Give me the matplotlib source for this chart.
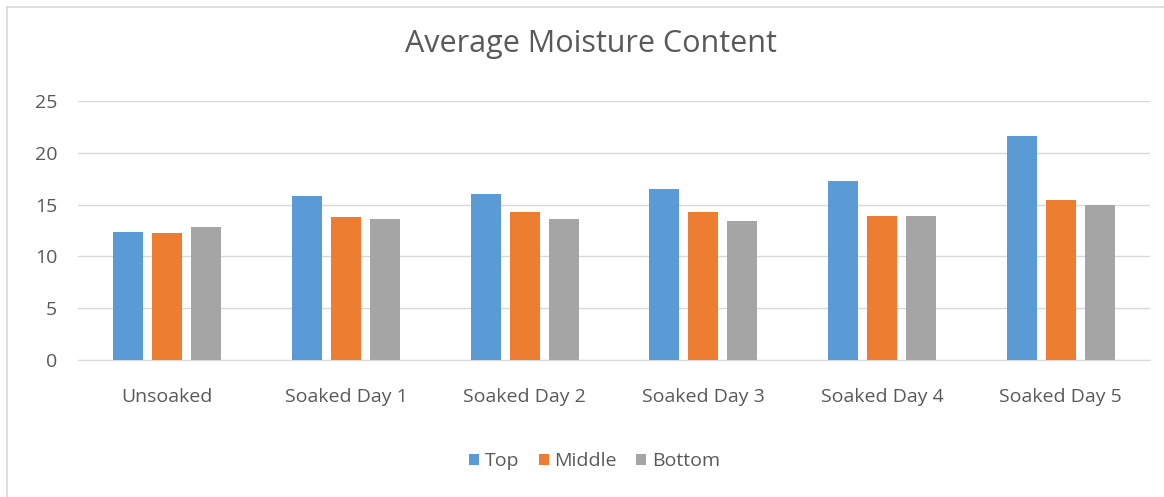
import matplotlib
matplotlib.use("Agg")
import matplotlib.pyplot as plt
import numpy as np

plt.rcParams['font.family'] = ['Open Sans', 'DejaVu Sans']

categories = ['Unsoaked', 'Soaked Day 1', 'Soaked Day 2', 'Soaked Day 3',
              'Soaked Day 4', 'Soaked Day 5']
top = [12.4, 15.8, 16.0, 16.5, 17.3, 21.6]
middle = [12.3, 13.8, 14.3, 14.3, 13.9, 15.4]
bottom = [12.8, 13.6, 13.6, 13.4, 13.9, 15.0]

series = [('Top', top, '#5b9bd5'),
          ('Middle', middle, '#ed7d31'),
          ('Bottom', bottom, '#a5a5a5')]

fig = plt.figure(figsize=(11.64, 4.97), dpi=100)
ax = fig.add_axes([78 / 1164, 1 - 360 / 497, (1150 - 78) / 1164, 259 / 497])

# light chart frame (only left and top edges are visible)
fig.add_artist(plt.Line2D([7 / 1164, 7 / 1164], [0, 1 - 7 / 497],
                          color='#d9d9d9', lw=1.2, transform=fig.transFigure))
fig.add_artist(plt.Line2D([7 / 1164, 1], [1 - 7 / 497, 1 - 7 / 497],
                          color='#d9d9d9', lw=1.2, transform=fig.transFigure))

x = np.arange(len(categories))
w = 0.168
step = 0.219
for i, (name, vals, col) in enumerate(series):
    ax.bar(x + (i - 1) * step, vals, width=w, color=col, label=name, zorder=3)

ax.set_xlim(-0.5, len(categories) - 0.5)
ax.set_ylim(0, 25)
ax.set_yticks(range(0, 26, 5))
ax.set_xticks(x)
ax.set_xticklabels(categories)
ax.yaxis.grid(True, color='#d9d9d9', lw=1)
ax.set_axisbelow(True)
for s in ['top', 'right', 'left']:
    ax.spines[s].set_visible(False)
ax.spines['bottom'].set_color('#d9d9d9')
ax.tick_params(axis='both', length=0, colors='#595959', labelsize=14)
ax.tick_params(axis='y', pad=15)
ax.tick_params(axis='x', pad=20)

fig.text(0.508, 1 - 44 / 497, 'Average Moisture Content', ha='center',
         va='center', fontsize=22, color='#595959')

leg = fig.legend(loc='center', bbox_to_anchor=(0.511, 1 - 461 / 497), ncol=3,
                 frameon=False, fontsize=14, handlelength=0.5, handleheight=0.5,
                 handletextpad=0.3, columnspacing=1.0)
for t in leg.get_texts():
    t.set_color('#595959')

fig.savefig('out.png', dpi=100)
